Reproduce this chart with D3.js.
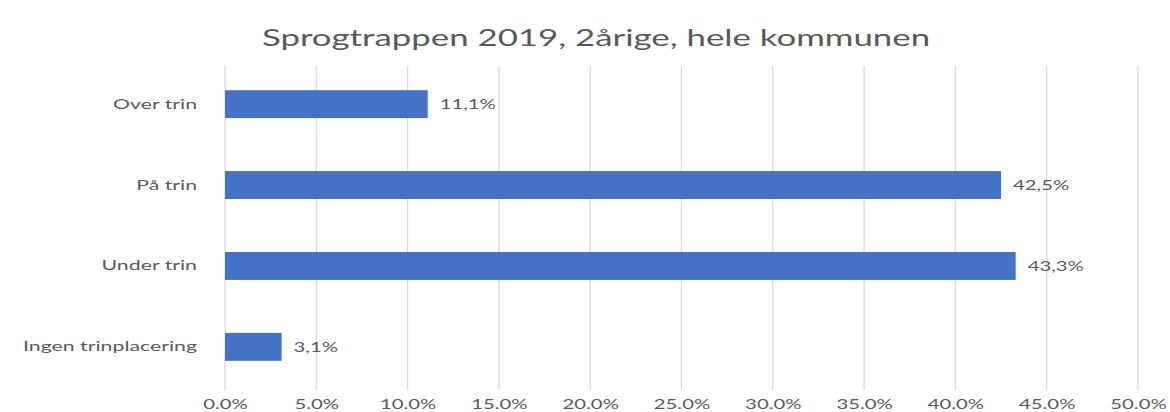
<!DOCTYPE html>
<html>
<head>
<meta charset="utf-8">
<script src="https://cdn.jsdelivr.net/npm/d3@7"></script>
<style>
  html, body { margin: 0; padding: 0; background: #fff; }
  svg { display: block; }
  text { font-family: Lato, "Open Sans", sans-serif; fill: #595959; }
</style>
</head>
<body>
<svg id="chart" width="1170" height="412"></svg>
<script>
const title = "Sprogtrappen 2019, 2årige, hele kommunen";
const categories = ["Over trin", "På trin", "Under trin", "Ingen trinplacering"];
const values = [11.1, 42.5, 43.3, 3.1];
const tickValues = [0, 5, 10, 15, 20, 25, 30, 35, 40, 45, 50];

const svg = d3.select("#chart");
const x = d3.scaleLinear().domain([0, 50]).range([225, 1138]);
const y = d3.scaleBand().domain(categories).range([63.5, 387.5]).paddingInner(0.655).paddingOuter(0.33);

// horizontal stretch of text, as in the reference picture
function stretch(sel, f) {
  sel.each(function() {
    const w = this.getComputedTextLength();
    d3.select(this).attr("textLength", w * f).attr("lengthAdjust", "spacingAndGlyphs");
  });
}

// gridlines
svg.append("g").selectAll("line").data(tickValues).join("line")
  .attr("x1", d => x(d)).attr("x2", d => x(d))
  .attr("y1", 66).attr("y2", 390)
  .attr("stroke", "#d9d9d9").attr("stroke-width", 1.3);

// x axis labels
const xAxis = d3.axisBottom(x).tickValues(tickValues)
  .tickFormat(d => d3.format(".1f")(d) + "%").tickSize(0).tickPadding(0);
const gx = svg.append("g").attr("transform", "translate(0,396)").call(xAxis);
gx.select(".domain").remove();
gx.selectAll("text").attr("font-size", 14).attr("dy", "0.9em")
  .style("font-family", "Lato, 'Open Sans', sans-serif").attr("fill", "#595959")
  .call(stretch, 1.45);

// y axis labels
const yAxis = d3.axisLeft(y).tickSize(0).tickPadding(0);
const gy = svg.append("g").attr("transform", "translate(197,0)").call(yAxis);
gy.select(".domain").remove();
gy.selectAll("text").attr("font-size", 14)
  .style("font-family", "Lato, 'Open Sans', sans-serif").attr("fill", "#595959")
  .call(stretch, 1.52);

// bars
svg.append("g").selectAll("rect").data(categories).join("rect")
  .attr("x", x(0))
  .attr("y", d => y(d))
  .attr("width", (d, i) => x(values[i]) - x(0))
  .attr("height", y.bandwidth())
  .attr("fill", "#4472C4");

// value labels
svg.append("g").selectAll("text").data(categories).join("text")
  .attr("x", (d, i) => x(values[i]) + 12)
  .attr("y", d => y(d) + y.bandwidth() / 2)
  .attr("dy", "0.35em")
  .attr("font-size", 14)
  .text((d, i) => d3.format(".1f")(values[i]).replace(".", ",") + "%")
  .call(stretch, 1.45);

// title
svg.append("text")
  .attr("x", 596).attr("y", 46)
  .attr("text-anchor", "middle")
  .attr("font-size", 24)
  .text(title)
  .call(stretch, 1.45);
</script>
</body>
</html>
